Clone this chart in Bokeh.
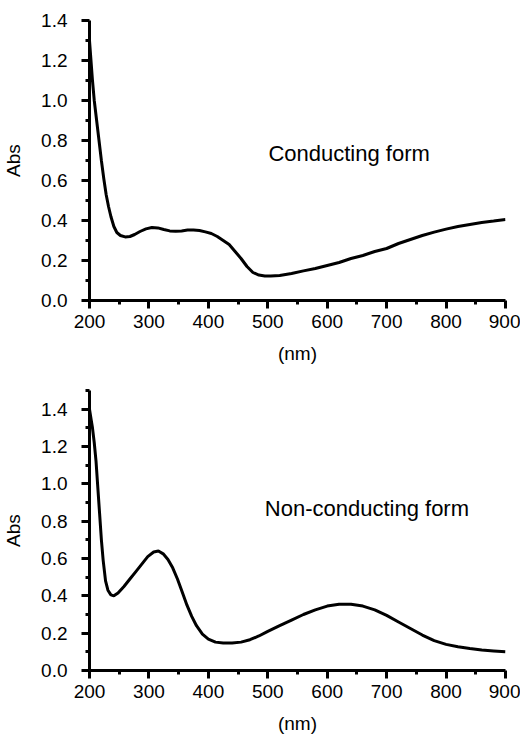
from bokeh.plotting import figure
from bokeh.models import FixedTicker, Label, Range1d, NumeralTickFormatter
from bokeh.layouts import column
from bokeh.embed import file_html
from bokeh.resources import INLINE

# Conducting form spectrum (wavelength nm, absorbance)
wl_cond = [200, 202, 205, 208, 212, 216, 220, 224, 228, 232, 236, 241, 246, 252, 260,
           268, 276, 285, 295, 305, 315, 325, 335, 345, 355, 365, 375, 385, 395, 405,
           415, 425, 435, 445, 455, 465, 475, 485, 495, 505, 520, 540, 560, 580, 600,
           620, 640, 660, 680, 700, 720, 740, 760, 780, 800, 820, 840, 860, 880, 900]
abs_cond = [1.30, 1.22, 1.10, 1.00, 0.90, 0.80, 0.70, 0.61, 0.53, 0.47, 0.42, 0.37, 0.34, 0.325, 0.318,
            0.32, 0.33, 0.345, 0.358, 0.365, 0.363, 0.355, 0.348, 0.346, 0.348, 0.352, 0.352, 0.35, 0.343, 0.335,
            0.32, 0.30, 0.28, 0.245, 0.21, 0.17, 0.14, 0.127, 0.122, 0.122, 0.125, 0.135, 0.148, 0.16, 0.175,
            0.19, 0.21, 0.225, 0.245, 0.26, 0.285, 0.305, 0.325, 0.342, 0.357, 0.37, 0.38, 0.39, 0.397, 0.405]

# Non-conducting form spectrum
wl_non = [200, 203, 205, 208, 211, 214, 217, 220, 223, 227, 231, 236, 241, 248, 258,
          268, 278, 288, 298, 308, 316, 324, 332, 340, 348, 356, 364, 372, 380, 390,
          400, 412, 425, 440, 455, 470, 485, 500, 520, 540, 560, 580, 600, 620, 640,
          660, 680, 700, 720, 740, 760, 780, 800, 820, 840, 860, 880, 900]
abs_non = [1.40, 1.34, 1.30, 1.22, 1.12, 0.98, 0.84, 0.70, 0.59, 0.48, 0.43, 0.405, 0.40, 0.415, 0.45,
           0.49, 0.53, 0.57, 0.61, 0.635, 0.64, 0.625, 0.595, 0.55, 0.49, 0.42, 0.35, 0.29, 0.24, 0.195,
           0.168, 0.152, 0.147, 0.147, 0.152, 0.165, 0.185, 0.21, 0.24, 0.27, 0.30, 0.325, 0.345, 0.355, 0.355,
           0.345, 0.325, 0.295, 0.26, 0.225, 0.19, 0.16, 0.14, 0.127, 0.118, 0.11, 0.105, 0.10]

# Tick values
x_major = [200, 300, 400, 500, 600, 700, 800, 900]
x_minor = [250, 350, 450, 550, 650, 750, 850]
y_major = [0.0, 0.2, 0.4, 0.6, 0.8, 1.0, 1.2, 1.4]
y_minor = [0.1, 0.3, 0.5, 0.7, 0.9, 1.1, 1.3, 1.5]

FONT = "Liberation Sans"


def make_panel(wl, ab, ymax, height, top, bottom, label, lx, ly):
    p = figure(width=520, height=height, output_backend="svg", toolbar_location=None,
               x_range=Range1d(200, 900), y_range=Range1d(0, ymax),
               min_border_left=87, min_border_right=15,
               min_border_top=top, min_border_bottom=bottom)
    p.outline_line_color = None
    p.xgrid.visible = False
    p.ygrid.visible = False
    p.xaxis.ticker = FixedTicker(ticks=x_major, minor_ticks=x_minor)
    p.yaxis.ticker = FixedTicker(ticks=y_major, minor_ticks=[t for t in y_minor if t <= ymax])
    p.yaxis.formatter = NumeralTickFormatter(format="0.0")
    for ax in (p.xaxis[0], p.yaxis[0]):
        ax.axis_line_width = 3
        ax.axis_line_color = "black"
        ax.major_tick_line_width = 3
        ax.major_tick_line_color = "black"
        ax.major_tick_out = 8
        ax.major_tick_in = 0
        ax.minor_tick_line_width = 3
        ax.minor_tick_line_color = "black"
        ax.minor_tick_out = 4
        ax.minor_tick_in = 0
        ax.major_label_text_font = FONT
        ax.major_label_text_font_size = "19px"
        ax.major_label_text_color = "black"
        ax.axis_label_text_font = FONT
        ax.axis_label_text_font_size = "19px"
        ax.axis_label_text_font_style = "normal"
        ax.axis_label_text_color = "black"
    p.xaxis.axis_label = "(nm)"
    p.yaxis.axis_label = "Abs"
    p.xaxis.major_label_standoff = 6
    p.xaxis.axis_label_standoff = 12
    p.yaxis.major_label_standoff = 14
    p.yaxis.axis_label_standoff = 14
    p.line(wl, ab, line_width=3, line_color="black")
    p.add_layout(Label(x=lx, y=ly, text=label, text_font=FONT, text_font_size="22px",
                       text_color="black", text_align="left", text_baseline="alphabetic"))
    return p


p1 = make_panel(wl_cond, abs_cond, 1.4, 370, 20, 70, "Conducting form", 501, 0.737)
p2 = make_panel(wl_non, abs_non, 1.5, 366, 20, 66, "Non-conducting form", 495, 0.87)

layout = column(p1, p2, spacing=0)
open("out.html", "w").write(file_html(layout, INLINE))
